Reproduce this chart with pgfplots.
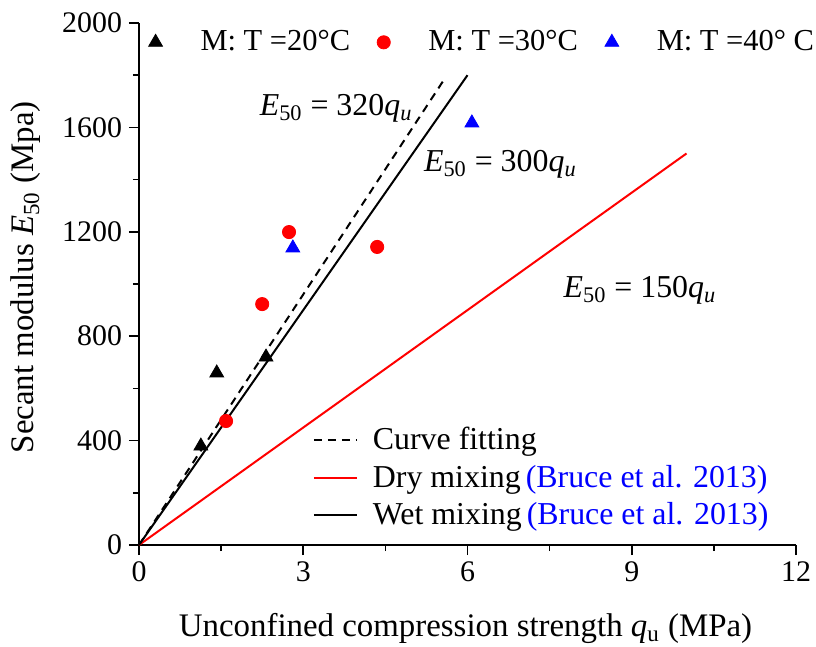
\documentclass[border=0pt]{standalone}
\usepackage{fontspec}
\setmainfont{Liberation Serif}
\usepackage{pgfplots}
\pgfplotsset{compat=1.18}
\usetikzlibrary{calc}

\begin{document}
\begin{tikzpicture}[font=\fontsize{15}{18}\selectfont]
\pgfplotsset{
  base/.style={
    scale only axis,
    width=328.5bp, height=261bp,
    xmin=0, xmax=12, ymin=0, ymax=2000,
  }
}
% lines and bottom legend
\begin{axis}[base,
  axis x line*=bottom, axis y line*=left,
  axis line style={-, line width=0.8bp},
  xtick={0,3,6,9,12}, ytick={0,400,800,1200,1600,2000},
  minor x tick num=1, minor y tick num=1,
  tick align=outside,
  major tick length=5bp, minor tick length=3bp,
  tick style={black, line width=0.8bp},
  tick label style={font=\fontsize{15}{18}\selectfont},
  /pgf/number format/assume math mode=true,
  /pgf/number format/1000 sep={},
  label style={font=\fontsize{16.5}{19}\selectfont},
  xlabel={Unconfined compression strength \textit{q}\textsubscript{u} (MPa)},
  ylabel={Secant modulus \textit{E}\textsubscript{50} (Mpa)},
  xlabel style={at={(axis description cs:0.497,-0.16)}, anchor=center},
  ylabel style={at={(axis description cs:-0.172,0.513)}, anchor=center},
  legend style={at={(axis description cs:0.255,0.02)}, anchor=south west,
    draw=none, fill=none, row sep=3bp,
    font=\fontsize{16}{19}\selectfont,
    nodes={inner sep=1.5bp}},
  /tikz/every odd column/.append style={column sep=6bp},
  legend cell align=left,
  legend image code/.code={\draw[#1] (0bp,0bp) -- (21.5bp,0bp);},
]
\addplot[black, line width=1bp, dash pattern=on 4bp off 3bp] coordinates {(0,0) (5.6,1792)};
\addlegendentry{Curve fitting}
\addplot[red, line width=1bp] coordinates {(0,0) (10,1500)};
\addlegendentry{Dry mixing\hspace{2.5bp}\textcolor{blue}{(Bruce et al. 2013)}}
\addplot[black, line width=1bp] coordinates {(0,0) (6,1800)};
\addlegendentry{Wet mixing\hspace{2.5bp}\textcolor{blue}{(Bruce et al. 2013)}}

\node[font=\fontsize{16}{19}\selectfont] at (axis cs:3.6,1672) {\textit{E}\textsubscript{50} = 320\textit{q}\textsubscript{\textit{u}}};
\node[font=\fontsize{16}{19}\selectfont] at (axis cs:6.6,1458) {\textit{E}\textsubscript{50} = 300\textit{q}\textsubscript{\textit{u}}};
\node[font=\fontsize{16}{19}\selectfont] at (axis cs:9.15,975) {\textit{E}\textsubscript{50} = 150\textit{q}\textsubscript{\textit{u}}};
\end{axis}

% measured points and top legend
\begin{axis}[base, hide axis,
  legend columns=3,
  legend style={at={(axis description cs:0.005,0.963)}, anchor=west,
    draw=none, fill=none, font=\fontsize{15.3}{18}\selectfont},
  /tikz/every odd column/.append style={column sep=17bp},
  /tikz/every even column/.append style={column sep=11.5bp},
]
\addplot[only marks, mark=triangle*, mark size=4bp, black] coordinates {
  (1.13,379) (1.42,659) (2.32,720)
};
\addlegendentry{M: T =20°C}
\addplot[only marks, mark=*, mark size=3.3bp, red] coordinates {
  (1.59,475) (2.25,923) (2.74,1199) (4.35,1142)
};
\addlegendentry{M: T =30°C}
\addplot[only marks, mark=triangle*, mark size=4bp, blue] coordinates {
  (2.81,1138) (6.08,1617)
};
\addlegendentry{M: T =40° C}
\end{axis}

\pgfresetboundingbox
\useasboundingbox ($(current axis.south west)+(-69.5bp,-51bp)$) rectangle ($(current axis.north east)+(10bp,11.5bp)$);
\end{tikzpicture}
\end{document}
